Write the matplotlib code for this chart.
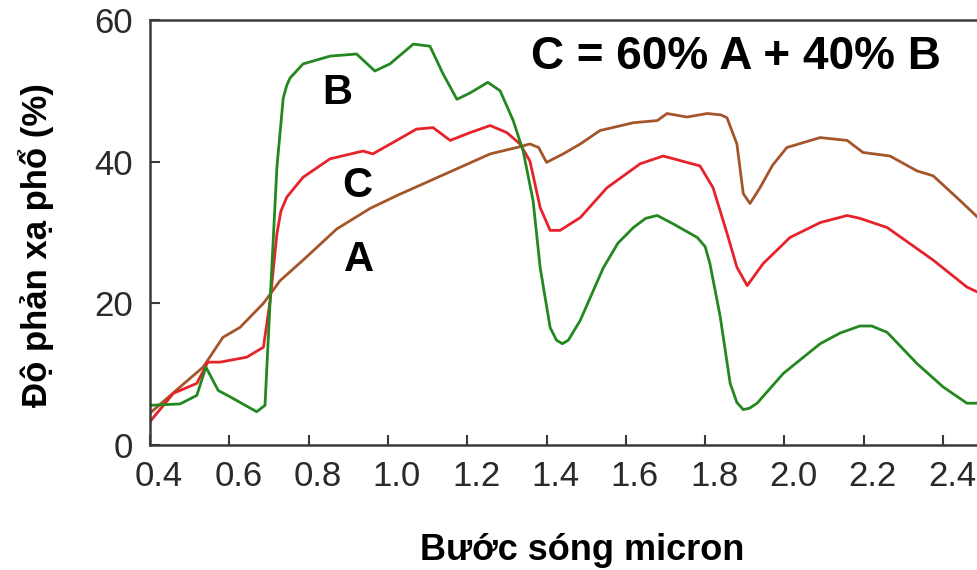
import matplotlib
matplotlib.use("Agg")
import matplotlib.pyplot as plt
from matplotlib.transforms import ScaledTranslation

plt.rcParams['font.family'] = ['Liberation Sans', 'DejaVu Sans']

# Curve A (brown) - wavelength (micron), reflectance (%)
wl_a = [0.40, 0.476, 0.534, 0.584, 0.627, 0.686, 0.728, 0.786, 0.871, 0.955, 1.022,
        1.106, 1.19, 1.258, 1.325, 1.358, 1.38, 1.40, 1.442, 1.485, 1.535, 1.619, 1.679,
        1.704, 1.754, 1.805, 1.84, 1.855, 1.88, 1.896, 1.913, 1.938, 1.97, 2.006, 2.09, 2.158,
        2.198, 2.266, 2.334, 2.375, 2.443, 2.49]
refl_a = [4.5, 8.2, 11.0, 15.2, 16.6, 20.0, 23.2, 26.1, 30.5, 33.4, 35.2,
          37.3, 39.4, 41.1, 42.0, 42.5, 42.0, 39.9, 41.1, 42.5, 44.4, 45.5, 45.8,
          46.8, 46.3, 46.8, 46.6, 46.2, 42.5, 35.5, 34.1, 36.3, 39.5, 42.0, 43.4, 43.0,
          41.3, 40.8, 38.7, 38.0, 34.5, 32.0]

# Curve B (green)
wl_b = [0.40, 0.476, 0.518, 0.541, 0.572, 0.602, 0.669, 0.690, 0.703, 0.72, 0.736,
        0.745, 0.753, 0.786, 0.854, 0.921, 0.967, 1.005, 1.064, 1.106, 1.139, 1.174,
        1.207, 1.252, 1.283, 1.316, 1.341, 1.366, 1.384, 1.409, 1.425, 1.44, 1.455,
        1.485, 1.543, 1.58, 1.619, 1.65, 1.679, 1.72, 1.78, 1.80, 1.812, 1.838,
        1.863, 1.88, 1.896, 1.912, 1.931, 1.997, 2.09, 2.14, 2.19, 2.22, 2.259,
        2.334, 2.40, 2.46, 2.49]
refl_b = [5.6, 5.8, 7.0, 11.0, 7.7, 6.8, 4.7, 5.6, 20.4, 39.2, 49.0,
          50.8, 51.8, 53.8, 54.9, 55.2, 52.8, 53.8, 56.6, 56.3, 52.4, 48.8,
          49.7, 51.2, 50.0, 45.8, 41.5, 34.5, 25.0, 16.6, 14.8, 14.3, 14.8,
          17.6, 25.0, 28.5, 30.7, 32.0, 32.4, 31.2, 29.3, 28.0, 25.6, 18.1,
          8.7, 6.0, 5.0, 5.2, 5.9, 10.1, 14.3, 15.8, 16.8, 16.8, 15.9,
          11.5, 8.2, 5.9, 5.9]

# Curve C (red) = 60% A + 40% B
wl_c = [0.40, 0.459, 0.518, 0.546, 0.577, 0.644, 0.686, 0.703, 0.72, 0.73, 0.745, 0.786,
        0.854, 0.937, 0.962, 1.022, 1.072, 1.114, 1.157, 1.207, 1.258, 1.30, 1.333,
        1.358, 1.384, 1.409, 1.434, 1.485, 1.552, 1.636, 1.694, 1.787, 1.82, 1.855,
        1.88, 1.906, 1.946, 2.014, 2.09, 2.158, 2.19, 2.259, 2.375, 2.46, 2.49]
refl_c = [3.3, 7.3, 8.7, 11.7, 11.7, 12.4, 13.8, 20.4, 29.8, 33.0, 35.0, 37.8,
          40.4, 41.5, 41.1, 43.0, 44.6, 44.8, 43.0, 44.1, 45.1, 44.1, 42.5,
          40.1, 33.5, 30.3, 30.3, 32.1, 36.3, 39.7, 40.8, 39.4, 36.3, 29.9,
          25.1, 22.5, 25.6, 29.3, 31.4, 32.4, 32.0, 30.7, 26.1, 22.3, 21.5]

x_ticks = [0.4, 0.6, 0.8, 1.0, 1.2, 1.4, 1.6, 1.8, 2.0, 2.2, 2.4]
x_tick_labels = ["0.4", "0.6", "0.8", "1.0", "1.2", "1.4", "1.6", "1.8", "2.0", "2.2", "2.4"]
y_ticks = [0, 20, 40, 60]

fig = plt.figure(figsize=(9.78, 5.70), dpi=100)
ax = fig.add_axes([150 / 978, 125 / 570, 828 / 978, 425 / 570])

line_kw = dict(lw=2.0, solid_joinstyle="round", solid_capstyle="round")
ax.plot(wl_a, refl_a, color="#a4552a", **line_kw)
ax.plot(wl_c, refl_c, color="#e6222a", **line_kw)
ax.plot(wl_b, refl_b, color="#22881f", **line_kw)

ax.set_xlim(0.4, 2.488)
ax.set_ylim(0, 60)
ax.set_xticks(x_ticks)
ax.set_xticklabels(x_tick_labels)
ax.set_yticks(y_ticks)

ax.spines["right"].set_visible(False)
for s in ["left", "bottom", "top"]:
    ax.spines[s].set_linewidth(1.8)
    ax.spines[s].set_color("#3a3a3a")
ax.tick_params(direction="in", length=7, width=1.5, color="#3a3a3a",
               labelsize=25, labelcolor="#2a2a2a")
ax.tick_params(axis="x", pad=11)
ax.tick_params(axis="y", pad=12)

# labels in the source image sit a bit right of their ticks
shift = ScaledTranslation(9 / 100, 0, fig.dpi_scale_trans)
for lab in ax.get_xticklabels():
    lab.set_transform(lab.get_transform() + shift)

ax.set_xlabel("Bước sóng micron", fontsize=26, fontweight="bold", va="baseline")
ax.xaxis.set_label_coords(0.522, -0.271)
ax.set_ylabel("Độ phản xạ phổ (%)", fontsize=25, fontweight="bold",
              va="center", ha="center")
ax.yaxis.set_label_coords(-0.138, 0.47)

ax.text(0.708, 0.913, "C = 60% A + 40% B", transform=ax.transAxes,
        fontsize=33, fontweight="bold", ha="center", va="center")
ax.text(0.226, 0.828, "B", transform=ax.transAxes, fontsize=30,
        fontweight="bold", ha="center", va="center")
ax.text(0.250, 0.609, "C", transform=ax.transAxes, fontsize=30,
        fontweight="bold", ha="center", va="center")
ax.text(0.252, 0.435, "A", transform=ax.transAxes, fontsize=30,
        fontweight="bold", ha="center", va="center")

fig.savefig("out.png", dpi=100)
